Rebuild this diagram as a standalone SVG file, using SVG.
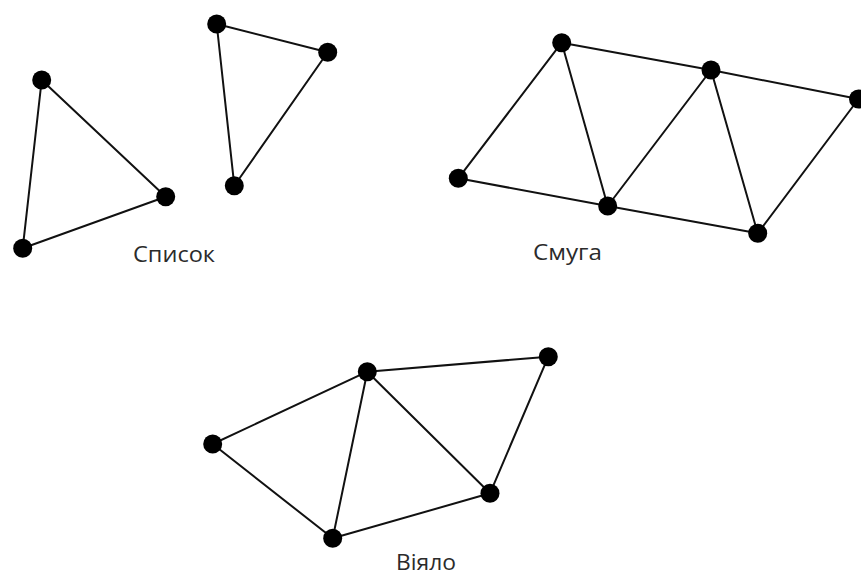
<svg xmlns="http://www.w3.org/2000/svg" width="861" height="576" viewBox="0 0 861 576">
  <style>
    .edge { stroke: #111; stroke-width: 2; stroke-linecap: round; fill: none; }
    .vertex { fill: #000; }
    .caption { font-family: "Open Sans", "Noto Sans", "DejaVu Sans", sans-serif; font-size: 21px; fill: #2b2b2b; }
  </style>
  <rect width="861" height="576" fill="#fff"/>

  <!-- Edges of the three triangle meshes -->
  <g id="connectors">
    <!-- Список: two separate triangles -->
    <line class="edge" x1="41.7" y1="80" x2="165.7" y2="196.7"/>
    <line class="edge" x1="41.7" y1="80" x2="22.7" y2="248.3"/>
    <line class="edge" x1="22.7" y1="248.3" x2="165.7" y2="196.7"/>
    <line class="edge" x1="216.7" y1="24" x2="327.7" y2="52.3"/>
    <line class="edge" x1="216.7" y1="24" x2="234.3" y2="185.7"/>
    <line class="edge" x1="234.3" y1="185.7" x2="327.7" y2="52.3"/>
    <!-- Смуга: triangle strip -->
    <line class="edge" x1="458.3" y1="178.3" x2="561.7" y2="42.7"/>
    <line class="edge" x1="458.3" y1="178.3" x2="607.7" y2="206"/>
    <line class="edge" x1="561.7" y1="42.7" x2="607.7" y2="206"/>
    <line class="edge" x1="561.7" y1="42.7" x2="711" y2="70"/>
    <line class="edge" x1="607.7" y1="206" x2="711" y2="70"/>
    <line class="edge" x1="607.7" y1="206" x2="757.7" y2="233.3"/>
    <line class="edge" x1="711" y1="70" x2="757.7" y2="233.3"/>
    <line class="edge" x1="711" y1="70" x2="858.5" y2="99"/>
    <line class="edge" x1="757.7" y1="233.3" x2="858.5" y2="99"/>
    <!-- Віяло: triangle fan -->
    <line class="edge" x1="212.7" y1="444" x2="367.3" y2="371.7"/>
    <line class="edge" x1="212.7" y1="444" x2="332.7" y2="538.3"/>
    <line class="edge" x1="367.3" y1="371.7" x2="332.7" y2="538.3"/>
    <line class="edge" x1="367.3" y1="371.7" x2="490" y2="493.3"/>
    <line class="edge" x1="332.7" y1="538.3" x2="490" y2="493.3"/>
    <line class="edge" x1="367.3" y1="371.7" x2="548.3" y2="356.7"/>
    <line class="edge" x1="548.3" y1="356.7" x2="490" y2="493.3"/>
  </g>

  <!-- Список -->
  <g id="list-a"><circle class="vertex" cx="41.7" cy="80" r="9.5"/></g>
  <g id="list-b"><circle class="vertex" cx="165.7" cy="196.7" r="9.5"/></g>
  <g id="list-c"><circle class="vertex" cx="22.7" cy="248.3" r="9.5"/></g>
  <g id="list-d"><circle class="vertex" cx="216.7" cy="24" r="9.5"/></g>
  <g id="list-e"><circle class="vertex" cx="327.7" cy="52.3" r="9.5"/></g>
  <g id="list-f"><circle class="vertex" cx="234.3" cy="185.7" r="9.5"/></g>

  <!-- Смуга -->
  <g id="strip-1"><circle class="vertex" cx="458.3" cy="178.3" r="9.5"/></g>
  <g id="strip-2"><circle class="vertex" cx="561.7" cy="42.7" r="9.5"/></g>
  <g id="strip-3"><circle class="vertex" cx="607.7" cy="206" r="9.5"/></g>
  <g id="strip-4"><circle class="vertex" cx="711" cy="70" r="9.5"/></g>
  <g id="strip-5"><circle class="vertex" cx="757.7" cy="233.3" r="9.5"/></g>
  <g id="strip-6"><circle class="vertex" cx="858.5" cy="99" r="9.5"/></g>

  <!-- Віяло -->
  <g id="fan-center"><circle class="vertex" cx="367.3" cy="371.7" r="9.5"/></g>
  <g id="fan-1"><circle class="vertex" cx="212.7" cy="444" r="9.5"/></g>
  <g id="fan-2"><circle class="vertex" cx="332.7" cy="538.3" r="9.5"/></g>
  <g id="fan-3"><circle class="vertex" cx="490" cy="493.3" r="9.5"/></g>
  <g id="fan-4"><circle class="vertex" cx="548.3" cy="356.7" r="9.5"/></g>

  <!-- Captions -->
  <g id="labels">
    <text class="caption" x="133" y="262" textLength="82" lengthAdjust="spacingAndGlyphs">Список</text>
    <text class="caption" x="533" y="260" textLength="69" lengthAdjust="spacingAndGlyphs">Смуга</text>
    <text class="caption" x="396" y="570" textLength="60" lengthAdjust="spacingAndGlyphs">Віяло</text>
  </g>
</svg>
